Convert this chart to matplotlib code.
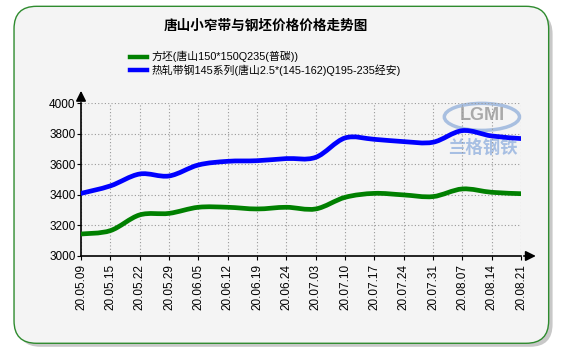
import numpy as np
import matplotlib
matplotlib.use('Agg')
from matplotlib import pyplot as plt
from matplotlib.patches import FancyBboxPatch, Ellipse, PathPatch
from matplotlib.path import Path

plt.rcParams['font.family'] = ['Liberation Sans', 'Noto Sans CJK SC', 'DejaVu Sans']

dates = ['20.05.09', '20.05.15', '20.05.22', '20.05.29', '20.06.05', '20.06.12',
         '20.06.19', '20.06.24', '20.07.03', '20.07.10', '20.07.17', '20.07.24',
         '20.07.31', '20.08.07', '20.08.14', '20.08.21']
billet = [3144, 3166, 3269, 3279, 3319, 3319, 3308, 3319, 3308, 3384, 3410, 3400,
          3389, 3439, 3417, 3408]
strip = [3410, 3459, 3537, 3524, 3596, 3620, 3624, 3638, 3646, 3773, 3764, 3749,
         3745, 3821, 3786, 3769]
billet_name = '方坯(唐山150*150Q235(普碳))'
strip_name = '热轧带钢145系列(唐山2.5*(145-162)Q195-235经安)'
title = '唐山小窄带与钢坯价格价格走势图'


def smooth_path(x, y):
    # catmull-rom curve drawn as bezier segments
    x = np.asarray(x, float)
    y = np.asarray(y, float)
    verts = [(x[0], y[0])]
    codes = [Path.MOVETO]
    n = len(x)
    for i in range(n - 1):
        x0, y0 = (x[i - 1], y[i - 1]) if i > 0 else (x[i], y[i])
        x3, y3 = (x[i + 2], y[i + 2]) if i + 2 < n else (x[i + 1], y[i + 1])
        c1 = (x[i] + (x[i + 1] - x0) / 6, y[i] + (y[i + 1] - y0) / 6)
        c2 = (x[i + 1] - (x3 - x[i]) / 6, y[i + 1] - (y3 - y[i]) / 6)
        verts += [c1, c2, (x[i + 1], y[i + 1])]
        codes += [Path.CURVE4] * 3
    return Path(verts, codes)


fig = plt.figure(figsize=(5.61, 3.51), dpi=100)
fig.patch.set_facecolor('white')

# shadow and rounded frame
shadow = FancyBboxPatch((0.032, 0.012), 0.953, 0.955, boxstyle='round,pad=0,rounding_size=0.04',
                        transform=fig.transFigure, facecolor='#c8c8c8', edgecolor='none',
                        mutation_aspect=561 / 351, zorder=-3)
fig.patches.append(shadow)
frame = FancyBboxPatch((0.025, 0.022), 0.953, 0.96, boxstyle='round,pad=0,rounding_size=0.04',
                       transform=fig.transFigure, facecolor='#f4f4f4', edgecolor='#2e8b2e',
                       linewidth=1.0, mutation_aspect=561 / 351, zorder=-2)
fig.patches.append(frame)

fig.text(0.473, 0.926, title, ha='center', va='center', fontsize=9.8, fontweight='bold',
         family=['Noto Sans CJK SC', 'DejaVu Sans'])

# watermark
fig.patches.append(Ellipse((0.859, 0.667), 0.134, 0.077, transform=fig.transFigure,
                           facecolor='none', edgecolor='#a8bfe0', linewidth=2.5, zorder=-1))
fig.text(0.859, 0.67, 'LGMI', ha='center', va='center', fontsize=13, fontweight='bold',
         color='#a9a9a9', zorder=-1)
fig.text(0.861, 0.578, '兰格钢铁', ha='center', va='center', fontsize=12.5, fontweight='bold',
         color='#a7bfe3', family=['Noto Sans CJK SC', 'DejaVu Sans'], zorder=-1)

ax = fig.add_axes([0.1444, 0.2707, 0.7843, 0.435])
ax.set_facecolor('none')
x = np.arange(len(dates))

l1, = ax.plot([], [], color='#008000', linewidth=3.2, label=billet_name)
l2, = ax.plot([], [], color='#0000ff', linewidth=3.2, label=strip_name)
ax.add_patch(PathPatch(smooth_path(x, billet), facecolor='none', edgecolor='#008000',
                       linewidth=3.4, capstyle='round', zorder=3))
ax.add_patch(PathPatch(smooth_path(x, strip), facecolor='none', edgecolor='#0000ff',
                       linewidth=3.4, capstyle='round', zorder=3))

ax.set_xlim(0, len(dates) - 1)
ax.set_ylim(3000, 4000)
ax.set_yticks(np.arange(3000, 4001, 200))
ax.set_xticks(x)
ax.set_xticklabels(dates, rotation=90, fontsize=8.5)
ax.tick_params(axis='y', labelsize=8.5, length=3, pad=1)
ax.tick_params(axis='x', length=3, pad=3)
ax.grid(True, color='#999999', linestyle=(0, (1, 2)), linewidth=0.8)
for s in ['top', 'right']:
    ax.spines[s].set_visible(False)
ax.spines['left'].set_linewidth(1.2)
ax.spines['bottom'].set_linewidth(1.2)

# axis arrows
ax.annotate('', xy=(0, 1.1), xytext=(0, 1.0), xycoords='axes fraction',
            arrowprops=dict(arrowstyle='-|>,head_width=0.3,head_length=0.6', color='black', lw=1.2),
            annotation_clip=False)
ax.annotate('', xy=(1.04, 0), xytext=(1.0, 0), xycoords='axes fraction',
            arrowprops=dict(arrowstyle='-|>,head_width=0.3,head_length=0.6', color='black', lw=1.2),
            annotation_clip=False)

fig.legend(handles=[l1, l2], loc='upper left', bbox_to_anchor=(0.222, 0.87), frameon=False,
           handlelength=1.6, handletextpad=0.4, labelspacing=0.15, borderpad=0,
           prop={'family': ['Liberation Sans', 'Noto Sans CJK SC'], 'size': 7.8})

fig.savefig('out.png', dpi=100, facecolor='white')
